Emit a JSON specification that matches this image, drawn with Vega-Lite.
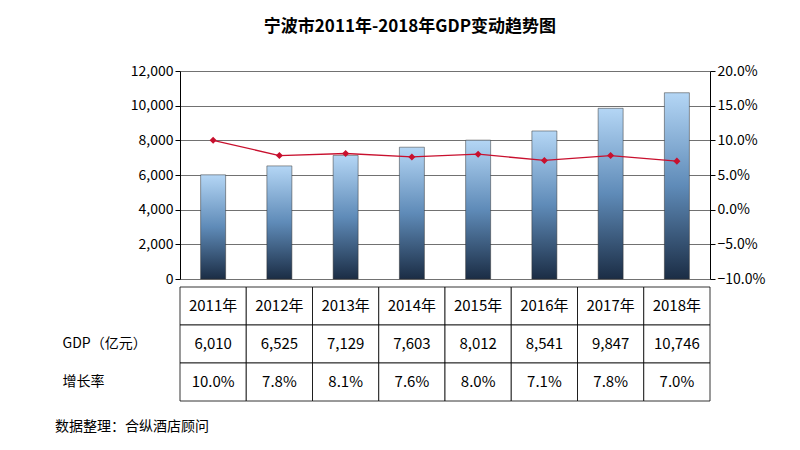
{
"$schema":"https://vega.github.io/schema/vega-lite/v6.json",
"background":"white",
"padding":{"left":55,"top":18,"right":10,"bottom":5},
"config":{"font":"Noto Sans CJK SC","view":{"stroke":null},"axis":{"labelFont":"Noto Sans CJK SC","labelFontSize":14,"labelColor":"#000"}},
"title":{"text":"宁波市2011年-2018年GDP变动趋势图","fontSize":17,"fontWeight":"bold","color":"#000","offset":28,"anchor":"middle"},
"datasets":{
"main":[
{"year":"2011年","gdp":6010,"rate":0.100},
{"year":"2012年","gdp":6525,"rate":0.078},
{"year":"2013年","gdp":7129,"rate":0.081},
{"year":"2014年","gdp":7603,"rate":0.076},
{"year":"2015年","gdp":8012,"rate":0.080},
{"year":"2016年","gdp":8541,"rate":0.071},
{"year":"2017年","gdp":9847,"rate":0.078},
{"year":"2018年","gdp":10746,"rate":0.070}],
"table":[
{"year":"2011年","row":"h","t":"2011年"},{"year":"2012年","row":"h","t":"2012年"},{"year":"2013年","row":"h","t":"2013年"},{"year":"2014年","row":"h","t":"2014年"},{"year":"2015年","row":"h","t":"2015年"},{"year":"2016年","row":"h","t":"2016年"},{"year":"2017年","row":"h","t":"2017年"},{"year":"2018年","row":"h","t":"2018年"},
{"year":"2011年","row":"g","t":"6,010"},{"year":"2012年","row":"g","t":"6,525"},{"year":"2013年","row":"g","t":"7,129"},{"year":"2014年","row":"g","t":"7,603"},{"year":"2015年","row":"g","t":"8,012"},{"year":"2016年","row":"g","t":"8,541"},{"year":"2017年","row":"g","t":"9,847"},{"year":"2018年","row":"g","t":"10,746"},
{"year":"2011年","row":"r","t":"10.0%"},{"year":"2012年","row":"r","t":"7.8%"},{"year":"2013年","row":"r","t":"8.1%"},{"year":"2014年","row":"r","t":"7.6%"},{"year":"2015年","row":"r","t":"8.0%"},{"year":"2016年","row":"r","t":"7.1%"},{"year":"2017年","row":"r","t":"7.8%"},{"year":"2018年","row":"r","t":"7.0%"}],
"foot":[{"t":"数据整理：合纵酒店顾问"}]
},
"vconcat":[
{"width":530,"height":208,"data":{"name":"main"},
"layer":[
{"mark":{"type":"bar","width":25,"stroke":"#333","strokeWidth":0.5,"fill":{"gradient":"linear","x1":0,"y1":0,"x2":0,"y2":1,"stops":[{"offset":0,"color":"#b4d6f5"},{"offset":0.5,"color":"#5f8bb8"},{"offset":1,"color":"#1b2d45"}]}},
"encoding":{"x":{"field":"year","type":"nominal","axis":null,"sort":null},
"y":{"field":"gdp","type":"quantitative","scale":{"domain":[0,12000]},"axis":{"title":null,"values":[0,2000,4000,6000,8000,10000,12000],"format":",.0f","grid":true,"gridColor":"#333","gridWidth":0.7,"domainColor":"#000","tickColor":"#000"}}}},
{"mark":{"type":"line","color":"#c8102e","strokeWidth":1.3,"point":{"shape":"diamond","size":50,"filled":true,"color":"#c8102e"}},
"encoding":{"x":{"field":"year","type":"nominal","sort":null,"axis":null},
"y":{"field":"rate","type":"quantitative","scale":{"domain":[-0.1,0.2]},"axis":{"orient":"right","title":null,"format":".1%","values":[-0.1,-0.05,0,0.05,0.1,0.15,0.2],"grid":false,"domainColor":"#000","tickColor":"#000"}}}}
],
"resolve":{"scale":{"y":"independent"}}},
{"width":530,"height":114,"data":{"name":"table"},
"layer":[
{"mark":{"type":"rect","fill":"white","stroke":"#000","strokeWidth":0.8},
"encoding":{"x":{"field":"year","type":"nominal","sort":null,"axis":null},
"y":{"field":"row","type":"nominal","sort":["h","g","r"],"axis":{"title":null,"ticks":false,"domain":false,"labelPadding":118,"labelAlign":"left","labelExpr":"datum.value=='g'?'       GDP（亿元）':datum.value=='r'?'       增长率':''","labelLimit":200}}}},
{"mark":{"type":"text","fontSize":15,"color":"#000"},
"encoding":{"x":{"field":"year","type":"nominal","sort":null},"y":{"field":"row","type":"nominal","sort":["h","g","r"]},"text":{"field":"t"}}}
]},
{"width":530,"height":1,"data":{"name":"foot"},
"title":{"text":"数据整理：合纵酒店顾问","orient":"bottom","anchor":"start","dx":-125,"fontSize":14,"fontWeight":"normal","color":"#000","offset":6},
"mark":{"type":"text","opacity":0},
"encoding":{"text":{"field":"t"}}}
],
"spacing":0
}
